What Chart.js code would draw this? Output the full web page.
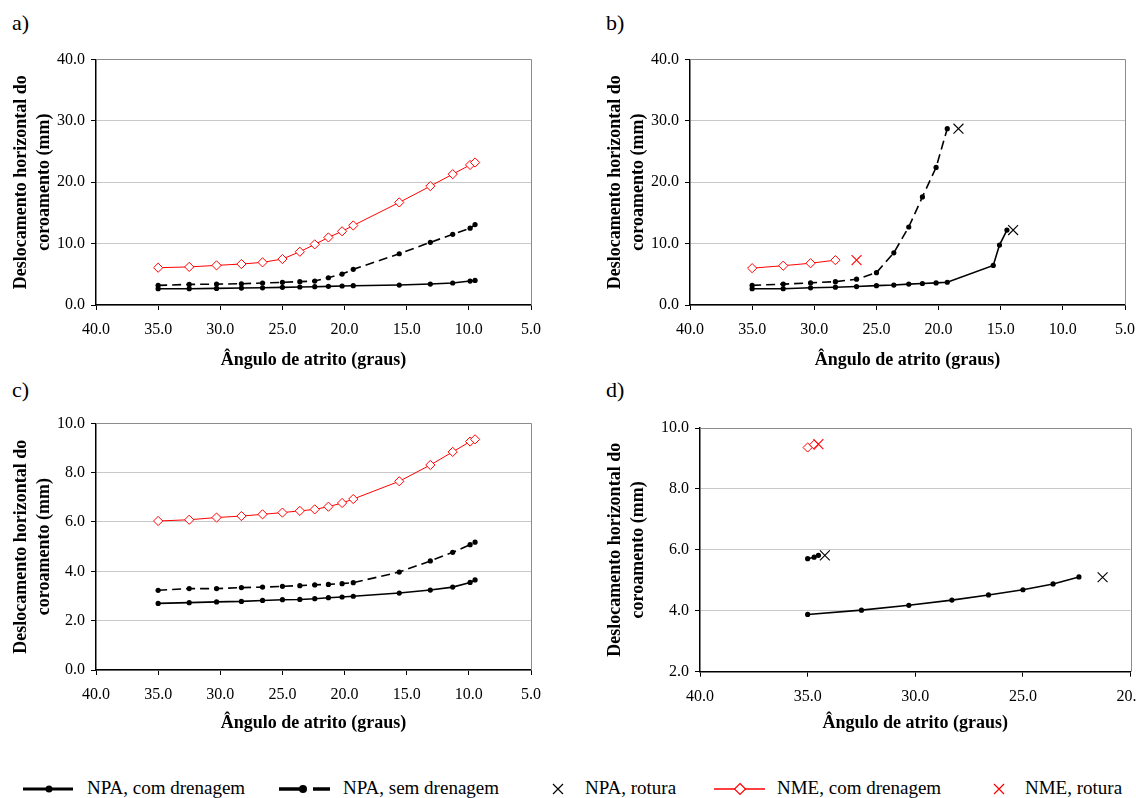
<!DOCTYPE html>
<html lang="pt">
<head>
<meta charset="utf-8">
<title>Deslocamento horizontal do coroamento</title>
<script src="https://cdn.jsdelivr.net/npm/chart.js@4.4.1/dist/chart.umd.min.js"></script>
<style>
  html, body { margin: 0; padding: 0; width: 1136px; height: 798px; overflow: hidden; background: #fff; }
  body { position: relative; font-family: 'Liberation Serif', 'Times New Roman', serif; color: #000; }
  canvas { position: absolute; }
  .panel-label { position: absolute; font-size: 22px; line-height: 26px; }
  .legend { position: absolute; left: 0; top: 776px; width: 1136px; height: 24px; }
  .legend svg { position: absolute; left: 0; top: 0; }
  .legend span { position: absolute; top: 0; font-size: 19px; line-height: 24px; white-space: nowrap; }
</style>
</head>
<body>
<div class="panel-label" style="left:12px; top:10px;">a)</div>
<div class="panel-label" style="left:606px; top:10px;">b)</div>
<div class="panel-label" style="left:12px; top:377px;">c)</div>
<div class="panel-label" style="left:606px; top:377px;">d)</div>

<canvas id="chartA"></canvas>
<canvas id="chartB"></canvas>
<canvas id="chartC"></canvas>
<canvas id="chartD"></canvas>

<div class="legend">
  <svg width="1136" height="24">
    <line x1="23" y1="13" x2="73" y2="13" stroke="#000" stroke-width="3"/>
    <circle cx="49" cy="13" r="3.5" fill="#000"/>
    <line x1="279" y1="13" x2="300" y2="13" stroke="#000" stroke-width="3.5"/>
    <line x1="313" y1="13" x2="330" y2="13" stroke="#000" stroke-width="3.5"/>
    <circle cx="303" cy="13" r="4" fill="#000"/>
    <path d="M553 8 L563 18 M563 8 L553 18" stroke="#000" stroke-width="1.2"/>
    <line x1="714" y1="13" x2="765" y2="13" stroke="#ff0000" stroke-width="1.5"/>
    <path d="M740 7.5 L745.5 13 L740 18.5 L734.5 13 Z" fill="#fff" stroke="#ff0000" stroke-width="1.2"/>
    <path d="M994 8 L1004 18 M1004 8 L994 18" stroke="#ff0000" stroke-width="1.2"/>
  </svg>
  <span style="left:87px;">NPA, com drenagem</span>
  <span style="left:343px;">NPA, sem drenagem</span>
  <span style="left:585px;">NPA, rotura</span>
  <span style="left:777px;">NME, com drenagem</span>
  <span style="left:1025px;">NME, rotura</span>
</div>

<script>
// ângulos de atrito (graus) comuns às séries completas
const angulos = [35.0, 32.5, 30.3, 28.3, 26.6, 25.0, 23.6, 22.4, 21.3, 20.2, 19.3, 15.6, 13.1, 11.3, 9.9, 9.5];

// a)
const aNpaComDren = [2.65, 2.65, 2.7, 2.76, 2.8, 2.87, 2.93, 2.98, 3.04, 3.09, 3.14, 3.25, 3.41, 3.58, 3.9, 4.0];
const aNpaSemDren = [3.2, 3.35, 3.4, 3.46, 3.58, 3.69, 3.8, 3.9, 4.44, 5.04, 5.8, 8.34, 10.2, 11.5, 12.5, 13.1];
const aNmeComDren = [6.07, 6.2, 6.45, 6.67, 6.94, 7.48, 8.67, 9.87, 11.0, 12.0, 12.95, 16.7, 19.35, 21.3, 22.8, 23.2];

// b)
const bAngComDren = [35.0, 32.5, 30.3, 28.3, 26.6, 25.0, 23.6, 22.4, 21.3, 20.2, 19.3, 15.6, 15.1, 14.5];
const bNpaComDren = [2.65, 2.65, 2.8, 2.9, 3.0, 3.15, 3.25, 3.4, 3.5, 3.6, 3.7, 6.45, 9.76, 12.2];
const bAngSemDren = [35.0, 32.5, 30.3, 28.3, 26.6, 25.0, 23.6, 22.4, 21.3, 20.2, 19.3];
const bNpaSemDren = [3.2, 3.4, 3.6, 3.8, 4.2, 5.26, 8.5, 12.7, 17.6, 22.4, 28.7];
const bAngNme = [35.0, 32.5, 30.3, 28.3];
const bNmeComDren = [6.0, 6.4, 6.8, 7.3];
const bAngNpaRotura = [18.4, 14.0];
const bNpaRotura = [28.7, 12.2];
const bAngNmeRotura = [26.6];
const bNmeRotura = [7.3];

// c)
const cNpaComDren = [2.70, 2.73, 2.76, 2.78, 2.82, 2.85, 2.86, 2.89, 2.93, 2.96, 2.99, 3.12, 3.24, 3.36, 3.55, 3.65];
const cNpaSemDren = [3.23, 3.30, 3.30, 3.34, 3.36, 3.39, 3.42, 3.45, 3.47, 3.50, 3.54, 3.97, 4.42, 4.77, 5.08, 5.18];
const cNmeComDren = [6.04, 6.09, 6.18, 6.24, 6.31, 6.38, 6.45, 6.51, 6.62, 6.77, 6.93, 7.65, 8.31, 8.84, 9.26, 9.35];

// d)
const dAngComDren = [35.0, 32.5, 30.3, 28.3, 26.6, 25.0, 23.6, 22.4];
const dNpaComDren = [3.88, 4.02, 4.18, 4.35, 4.52, 4.69, 4.88, 5.11];
const dAngSemDren = [35.0, 34.7, 34.5];
const dNpaSemDren = [5.71, 5.76, 5.82];
const dAngNme = [35.0, 34.7];
const dNmeComDren = [9.36, 9.45];
const dAngNpaRotura = [34.2, 21.3];
const dNpaRotura = [5.82, 5.1];
const dAngNmeRotura = [34.5];
const dNmeRotura = [9.47];

const FONT = "'Liberation Serif', 'Times New Roman', serif";
const TITLE_SIZE = 18;
const TITLE_LH = 1.28;

Chart.defaults.font.family = FONT;
Chart.defaults.color = '#000';

const pts = (xs, ys) => xs.map((x, i) => ({ x: x, y: ys[i] }));

const comDren = (xs, ys) => ({
  label: 'NPA, com drenagem',
  data: pts(xs, ys),
  borderColor: '#000',
  backgroundColor: '#000',
  borderWidth: 1.6,
  pointStyle: 'circle',
  pointRadius: 2.6,
  pointBorderWidth: 0,
});

const semDren = (xs, ys) => ({
  label: 'NPA, sem drenagem',
  data: pts(xs, ys),
  borderColor: '#000',
  backgroundColor: '#000',
  borderWidth: 1.6,
  borderDash: [9, 5],
  pointStyle: 'circle',
  pointRadius: 2.6,
  pointBorderWidth: 0,
});

const nmeComDren = (xs, ys) => ({
  label: 'NME, com drenagem',
  data: pts(xs, ys),
  borderColor: '#ff0000',
  backgroundColor: '#fff',
  borderWidth: 1,
  pointStyle: 'rectRot',
  pointRadius: 4.6,
  pointBorderColor: '#ff0000',
  pointBackgroundColor: '#fff',
  pointBorderWidth: 1,
});

const rotura = (label, color, xs, ys) => ({
  label: label,
  data: pts(xs, ys),
  showLine: false,
  borderColor: color,
  backgroundColor: color,
  pointStyle: 'crossRot',
  pointRadius: 7,
  pointBorderColor: color,
  pointBorderWidth: 1.1,
});

// gray frame at the top and right of the plot area
const plotBorder = {
  id: 'plotBorder',
  beforeDatasetsDraw(chart) {
    const { ctx, chartArea: a } = chart;
    const t = Math.round(a.top) + 0.5;
    const r = Math.round(a.right) + 0.5;
    ctx.save();
    ctx.strokeStyle = '#8c8c8c';
    ctx.lineWidth = 1;
    ctx.beginPath();
    ctx.moveTo(a.left, t);
    ctx.lineTo(r, t);
    ctx.lineTo(r, a.bottom);
    ctx.stroke();
    ctx.restore();
  },
};

function makePanel(id, g, xMin, y, datasets) {
  const canvas = document.getElementById(id);
  canvas.width = g.w;
  canvas.height = g.h;
  canvas.style.width = g.w + 'px';
  canvas.style.height = g.h + 'px';
  canvas.style.left = g.cx + 'px';
  canvas.style.top = g.cy + 'px';

  const lh = TITLE_SIZE * TITLE_LH;
  const yWidth = g.left - g.cx;
  const xBottom = g.xTitleY + lh / 2 - g.cy;
  const xHeight = xBottom - (g.bottom - g.cy);

  new Chart(canvas, {
    type: 'line',
    data: { datasets: datasets },
    options: {
      responsive: false,
      animation: false,
      events: [],
      layout: {
        padding: { left: 0, top: g.top - g.cy, right: g.cx + g.w - g.right, bottom: g.h - xBottom },
      },
      plugins: {
        legend: { display: false },
        tooltip: { enabled: false },
      },
      scales: {
        x: {
          type: 'linear',
          reverse: true,
          min: xMin,
          max: 40,
          border: { display: true, color: '#000', width: 1.5 },
          grid: { drawOnChartArea: false, drawTicks: true, tickLength: 5, tickColor: '#000' },
          ticks: {
            stepSize: 5,
            autoSkip: false,
            maxRotation: 0,
            padding: 10,
            font: { size: 16 },
            callback: v => v.toFixed(1),
          },
          title: {
            display: true,
            text: 'Ângulo de atrito (graus)',
            padding: 0,
            font: { size: TITLE_SIZE, weight: 'bold', lineHeight: TITLE_LH },
          },
          afterFit: s => { s.height = xHeight; },
        },
        y: {
          type: 'linear',
          min: y.min,
          max: y.max,
          border: { display: true, color: '#000', width: 1.5 },
          grid: { color: '#c8c8c8', lineWidth: 1, drawTicks: true, tickLength: 5, tickColor: '#000' },
          ticks: {
            stepSize: y.step,
            padding: 6,
            font: { size: 16 },
            callback: v => v.toFixed(1),
          },
          title: {
            display: true,
            text: ['Deslocamento horizontal do', 'coroamento (mm)'],
            padding: { top: g.yTitleX - lh / 2 - g.cx, bottom: 0 },
            font: { size: TITLE_SIZE, weight: 'bold', lineHeight: TITLE_LH },
          },
          afterFit: s => { s.width = yWidth; },
        },
      },
    },
    plugins: [plotBorder],
  });
}

makePanel('chartA',
  { cx: 0, cy: 35, w: 565, h: 345, left: 96, top: 59.3, right: 531, bottom: 305, xTitleY: 360, yTitleX: 21 },
  5, { min: 0, max: 40, step: 10 },
  [
    nmeComDren(angulos, aNmeComDren),
    semDren(angulos, aNpaSemDren),
    comDren(angulos, aNpaComDren),
  ]);

makePanel('chartB',
  { cx: 570, cy: 35, w: 600, h: 345, left: 690, top: 59.3, right: 1125, bottom: 305, xTitleY: 360, yTitleX: 615.5 },
  5, { min: 0, max: 40, step: 10 },
  [
    rotura('NME, rotura', '#ff0000', bAngNmeRotura, bNmeRotura),
    rotura('NPA, rotura', '#000', bAngNpaRotura, bNpaRotura),
    nmeComDren(bAngNme, bNmeComDren),
    semDren(bAngSemDren, bNpaSemDren),
    comDren(bAngComDren, bNpaComDren),
  ]);

makePanel('chartC',
  { cx: 0, cy: 400, w: 565, h: 345, left: 96, top: 423.3, right: 531, bottom: 670, xTitleY: 723, yTitleX: 21 },
  5, { min: 0, max: 10, step: 2 },
  [
    nmeComDren(angulos, cNmeComDren),
    semDren(angulos, cNpaSemDren),
    comDren(angulos, cNpaComDren),
  ]);

makePanel('chartD',
  { cx: 570, cy: 400, w: 600, h: 345, left: 700, top: 428, right: 1130.6, bottom: 671.7, xTitleY: 723, yTitleX: 615.5 },
  20, { min: 2, max: 10, step: 2 },
  [
    rotura('NME, rotura', '#ff0000', dAngNmeRotura, dNmeRotura),
    rotura('NPA, rotura', '#000', dAngNpaRotura, dNpaRotura),
    nmeComDren(dAngNme, dNmeComDren),
    semDren(dAngSemDren, dNpaSemDren),
    comDren(dAngComDren, dNpaComDren),
  ]);
</script>
</body>
</html>
